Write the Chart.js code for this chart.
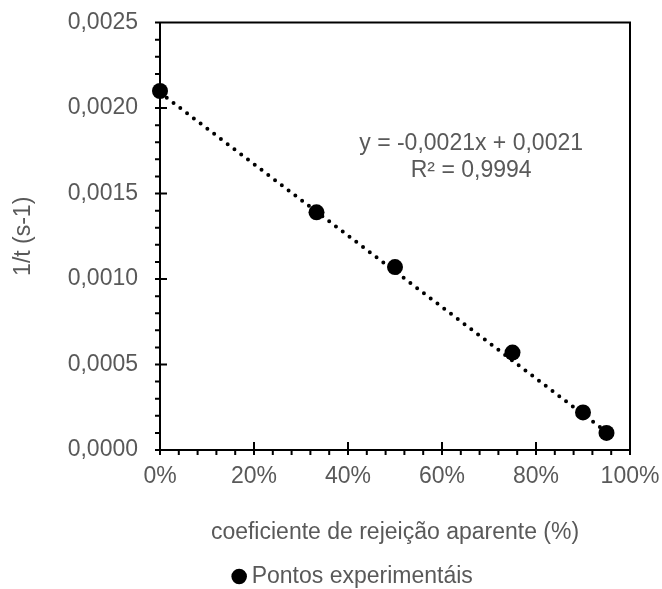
<!DOCTYPE html>
<html>
<head>
<meta charset="utf-8">
<script src="https://cdn.jsdelivr.net/npm/chart.js@4.4.1/dist/chart.umd.min.js"></script>
<style>
  html, body { margin: 0; padding: 0; background: #fff; }
</style>
</head>
<body>
<canvas id="chart" width="662" height="589"></canvas>
<script>
// data
const rejection = [0, 0.333, 0.5, 0.75, 0.9, 0.95];
const inverseTime = [0.00210, 0.00139, 0.00107, 0.00057, 0.00022, 0.00010];
const trendX = [0, 0.95];
const trendY = [0.00209, 0.000105];
const xTicks = [0, 0.2, 0.4, 0.6, 0.8, 1];
const xTickLabels = ["0%", "20%", "40%", "60%", "80%", "100%"];
const yTicks = [0, 0.0005, 0.001, 0.0015, 0.002, 0.0025];
const yTickLabels = ["0,0000", "0,0005", "0,0010", "0,0015", "0,0020", "0,0025"];
const equationLines = ["y = -0,0021x + 0,0021", "R² = 0,9994"];

const FONT = '"Liberation Sans", Arial, sans-serif';
const GREY = "#595959";
const SIZE = 23;

Chart.defaults.font.family = FONT;
Chart.defaults.font.size = SIZE;
Chart.defaults.color = GREY;

/* frame, tick marks and trendline label */
const frameAndTicks = {
  id: "frameAndTicks",
  beforeDraw(chart) {
    // legend in the reference sits a bit right of the canvas centre
    if (chart.legend) chart.legend.left = 81;
  },
  afterDraw(chart) {
    const { ctx, chartArea: a, scales: { x, y } } = chart;
    ctx.save();
    ctx.strokeStyle = "#000";
    ctx.lineWidth = 2;
    ctx.beginPath();
    ctx.moveTo(a.left, a.top);
    ctx.lineTo(a.right, a.top);
    ctx.lineTo(a.right, a.bottom);

    // x: minor every 4%, major every 20%
    for (let i = 0; i <= 25; i++) {
      const px = x.getPixelForValue(i * 0.04);
      const major = i % 5 === 0;
      ctx.moveTo(px, a.bottom + 5);
      ctx.lineTo(px, major ? a.bottom - 8 : a.bottom);
    }
    // y: minor every 0.0001, major every 0.0005
    for (let i = 0; i <= 25; i++) {
      const py = y.getPixelForValue(i * 0.0001);
      const major = i % 5 === 0;
      ctx.moveTo(a.left - 5, py);
      ctx.lineTo(major ? a.left + 7 : a.left, py);
    }
    ctx.stroke();

    ctx.fillStyle = GREY;
    ctx.font = SIZE + "px " + FONT;
    ctx.textAlign = "center";
    ctx.textBaseline = "middle";
    const cx = x.getPixelForValue(0.662);
    const cy = y.getPixelForValue(0.00179);
    equationLines.forEach((t, i) => ctx.fillText(t, cx, cy + i * 27));
    ctx.restore();
  }
};

new Chart(document.getElementById("chart"), {
  type: "scatter",
  data: {
    datasets: [
      {
        label: "Pontos experimentáis",
        data: rejection.map((v, i) => ({ x: v, y: inverseTime[i] })),
        backgroundColor: "#000",
        borderColor: "#000",
        borderWidth: 0,
        pointRadius: 8,
        pointHoverRadius: 8,
        clip: false
      },
      {
        label: "Linear",
        data: trendX.map((v, i) => ({ x: v, y: trendY[i] })),
        showLine: true,
        borderColor: "#000",
        borderWidth: 4,
        borderDash: [0, 8.5],
        borderCapStyle: "round",
        pointRadius: 0,
        clip: false
      }
    ]
  },
  options: {
    responsive: false,
    animation: false,
    layout: { padding: { left: 0, right: 32, top: 22.6, bottom: 0 } },
    plugins: {
      legend: {
        position: "bottom",
        maxHeight: 26,
        labels: {
          usePointStyle: true,
          pointStyle: "circle",
          boxWidth: 2,
          boxHeight: 11,
          padding: 2,
          color: GREY,
          font: { size: SIZE },
          filter: item => item.datasetIndex === 0
        }
      },
      tooltip: { enabled: false }
    },
    scales: {
      x: {
        type: "linear",
        min: 0,
        max: 1,
        afterFit: s => { s.height = 113; },
        afterBuildTicks: s => { s.ticks = xTicks.map(v => ({ value: v })); },
        // tick marks are drawn by the plugin; tickLength only spaces the labels
        grid: { display: false, drawTicks: true, tickLength: 13 },
        border: { display: true, color: "#000", width: 2 },
        ticks: {
          padding: 0,
          maxRotation: 0,
          autoSkip: false,
          color: GREY,
          callback: (v, i) => xTickLabels[i]
        },
        title: {
          display: true,
          text: "coeficiente de rejeição aparente (%)",
          color: GREY,
          font: { size: SIZE },
          padding: { top: 0, bottom: 17 }
        }
      },
      y: {
        type: "linear",
        min: 0,
        max: 0.0025,
        afterFit: s => { s.width = 160; },
        afterBuildTicks: s => { s.ticks = yTicks.map(v => ({ value: v })); },
        grid: { display: false, drawTicks: true, tickLength: 22 },
        border: { display: true, color: "#000", width: 2 },
        ticks: {
          padding: 0,
          autoSkip: false,
          color: GREY,
          callback: (v, i) => yTickLabels[i]
        },
        title: {
          display: true,
          text: "1/t (s-1)",
          color: GREY,
          font: { size: SIZE },
          padding: { top: 10.2, bottom: 0 }
        }
      }
    }
  },
  plugins: [frameAndTicks]
});
</script>
</body>
</html>
